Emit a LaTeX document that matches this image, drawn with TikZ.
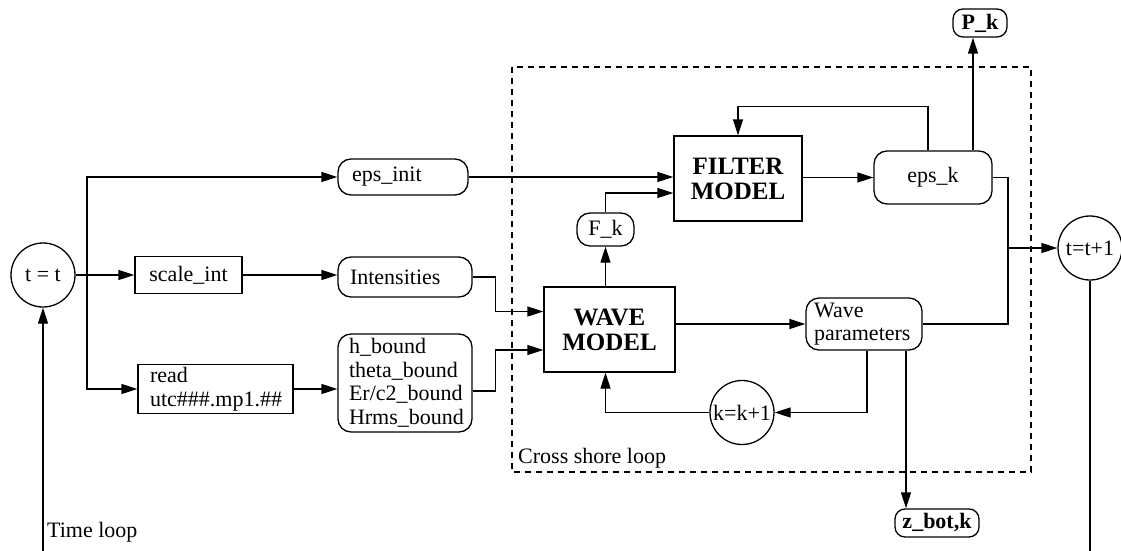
\documentclass[tikz,border=0pt]{standalone}
\usepackage{fontspec}
\setmainfont{Liberation Serif}
\usetikzlibrary{arrows.meta}
\begin{document}
\begin{tikzpicture}[x=1pt,y=-1pt,
  every node/.style={font=\fontsize{22}{23.5}\selectfont, inner sep=0pt},
  line/.style={line width=1.3pt},
  arr/.style={line width=1.3pt,-{Triangle[length=16pt,width=10pt]}},
  sq/.style={draw,line width=1.3pt,rectangle},
  rnd/.style={draw,line width=1.3pt,rounded corners=13pt},
  circ/.style={draw,line width=1.3pt,circle,minimum size=64pt},
  bigb/.style={font=\fontsize{25}{25}\selectfont\bfseries},
  smb/.style={font=\fontsize{22}{22}\selectfont\bfseries},
]
\useasboundingbox (0,0) rectangle (1121,551);
% loop frame
\draw[line width=1.1pt,dash pattern=on 6pt off 5pt] (512,67) rectangle (1031,472);
\node[anchor=west] (csl) at (518,458) {Cross shore loop};
\node[anchor=west] (tl) at (47,532) {Time loop};
% nodes
\node[circ] (t0) at (43,275) {t = t};
\node[circ] (tplus) at (1090,248) {t=t+1};
\node[circ] (kk) at (742,412.5) {k=k+1};
\node[sq,minimum width=107pt,minimum height=37pt] (scale) at (188.5,275) {scale\_int};
\node[sq,minimum height=49pt,text width=131pt,inner xsep=12pt,align=left] (read) at (215.5,389) {read\\utc\#\#\#.mp1.\#\#};
\node[rnd,minimum height=36pt,text width=102pt,inner xsep=14pt,align=left] (epsinit) at (403,177) {eps\_init};
\node[rnd,minimum height=40pt,text width=110pt,inner xsep=12pt,align=left] (int) at (405,277) {Intensities};
\node[rnd,minimum height=98pt,text width=112pt,inner xsep=11pt,align=left] (bnd) at (405,383) {h\_bound\\theta\_bound\\Er/c2\_bound\\Hrms\_bound};
\node[sq,bigb,minimum width=128pt,minimum height=85pt,align=center] (filter) at (738,178.5) {FILTER\\MODEL};
\node[sq,bigb,minimum width=131pt,minimum height=85pt,align=center] (wave) at (609.5,329.5) {WAVE\\MODEL};
\node[rnd,rounded corners=13pt,minimum width=57pt,minimum height=33pt] (fk) at (605.5,229.5) {F\_k};
\node[rnd,minimum width=118pt,minimum height=53pt] (epsk) at (933,177.5) {eps\_k};
\node[rnd,minimum height=52pt,text width=100pt,inner xsep=8pt,align=left] (wp) at (864,324) {Wave\\parameters};
\node[rnd,smb,rounded corners=10pt,minimum width=54pt,minimum height=28pt] (pk) at (980,23) {P\_k};
\node[rnd,smb,rounded corners=10pt,minimum width=84pt,minimum height=28pt] (zb) at (937,523) {z\_bot,k};
% coordinates
\coordinate (sp) at (87,275);
\coordinate (jn) at (1008,248);
\coordinate (bot) at (0,551);
% connectors
\draw[arr] (t0.east) -- (scale.west);
\draw[arr] (sp) |- (epsinit.west);
\draw[arr] (sp) |- (read.west);
\draw[arr] (scale.east) -- (scale.east -| int.west);
\draw[arr] (read.east) -- (read.east -| bnd.west);
\draw[arr] (int.east) -- ++(23,0) |- ([yshift=18pt]wave.west);
\draw[arr] ([yshift=-8pt]bnd.east) -- ++(23,0) |- ([yshift=-20.5pt]wave.west);
\draw[arr] (epsinit.east) -- (epsinit.east -| filter.west);
\draw[arr] (fk.south |- wave.north) -- (fk.south);
\draw[arr] (fk.north) |- ([yshift=-14.5pt]filter.west);
\draw[arr] (filter.east |- epsk.west) -- (epsk.west);
\draw[arr] ([xshift=-5pt]epsk.north) -- ++(0,-44) -| (filter.north);
\draw[arr] ([xshift=-7pt]pk.south |- epsk.north) -- ([xshift=-7pt]pk.south);
\draw[line] (epsk.east) -- (jn |- epsk.east) -- (jn |- wp.east) -- (wp.east);
\draw[arr] (jn) -- (tplus.west);
\draw[arr] (wave.east |- wp.west) -- (wp.west);
\draw[arr] ([xshift=3pt]wp.south) |- (kk.east);
\draw[arr] (kk.west) -| (fk.south |- wave.south);
\draw[arr] ([xshift=-31pt]zb.north |- wp.south) -- ([xshift=-31pt]zb.north);
\draw[line] (tplus.south) -- (tplus.south |- bot);
\draw[arr] (t0.south |- bot) -- (t0.south);
\end{tikzpicture}
\end{document}
